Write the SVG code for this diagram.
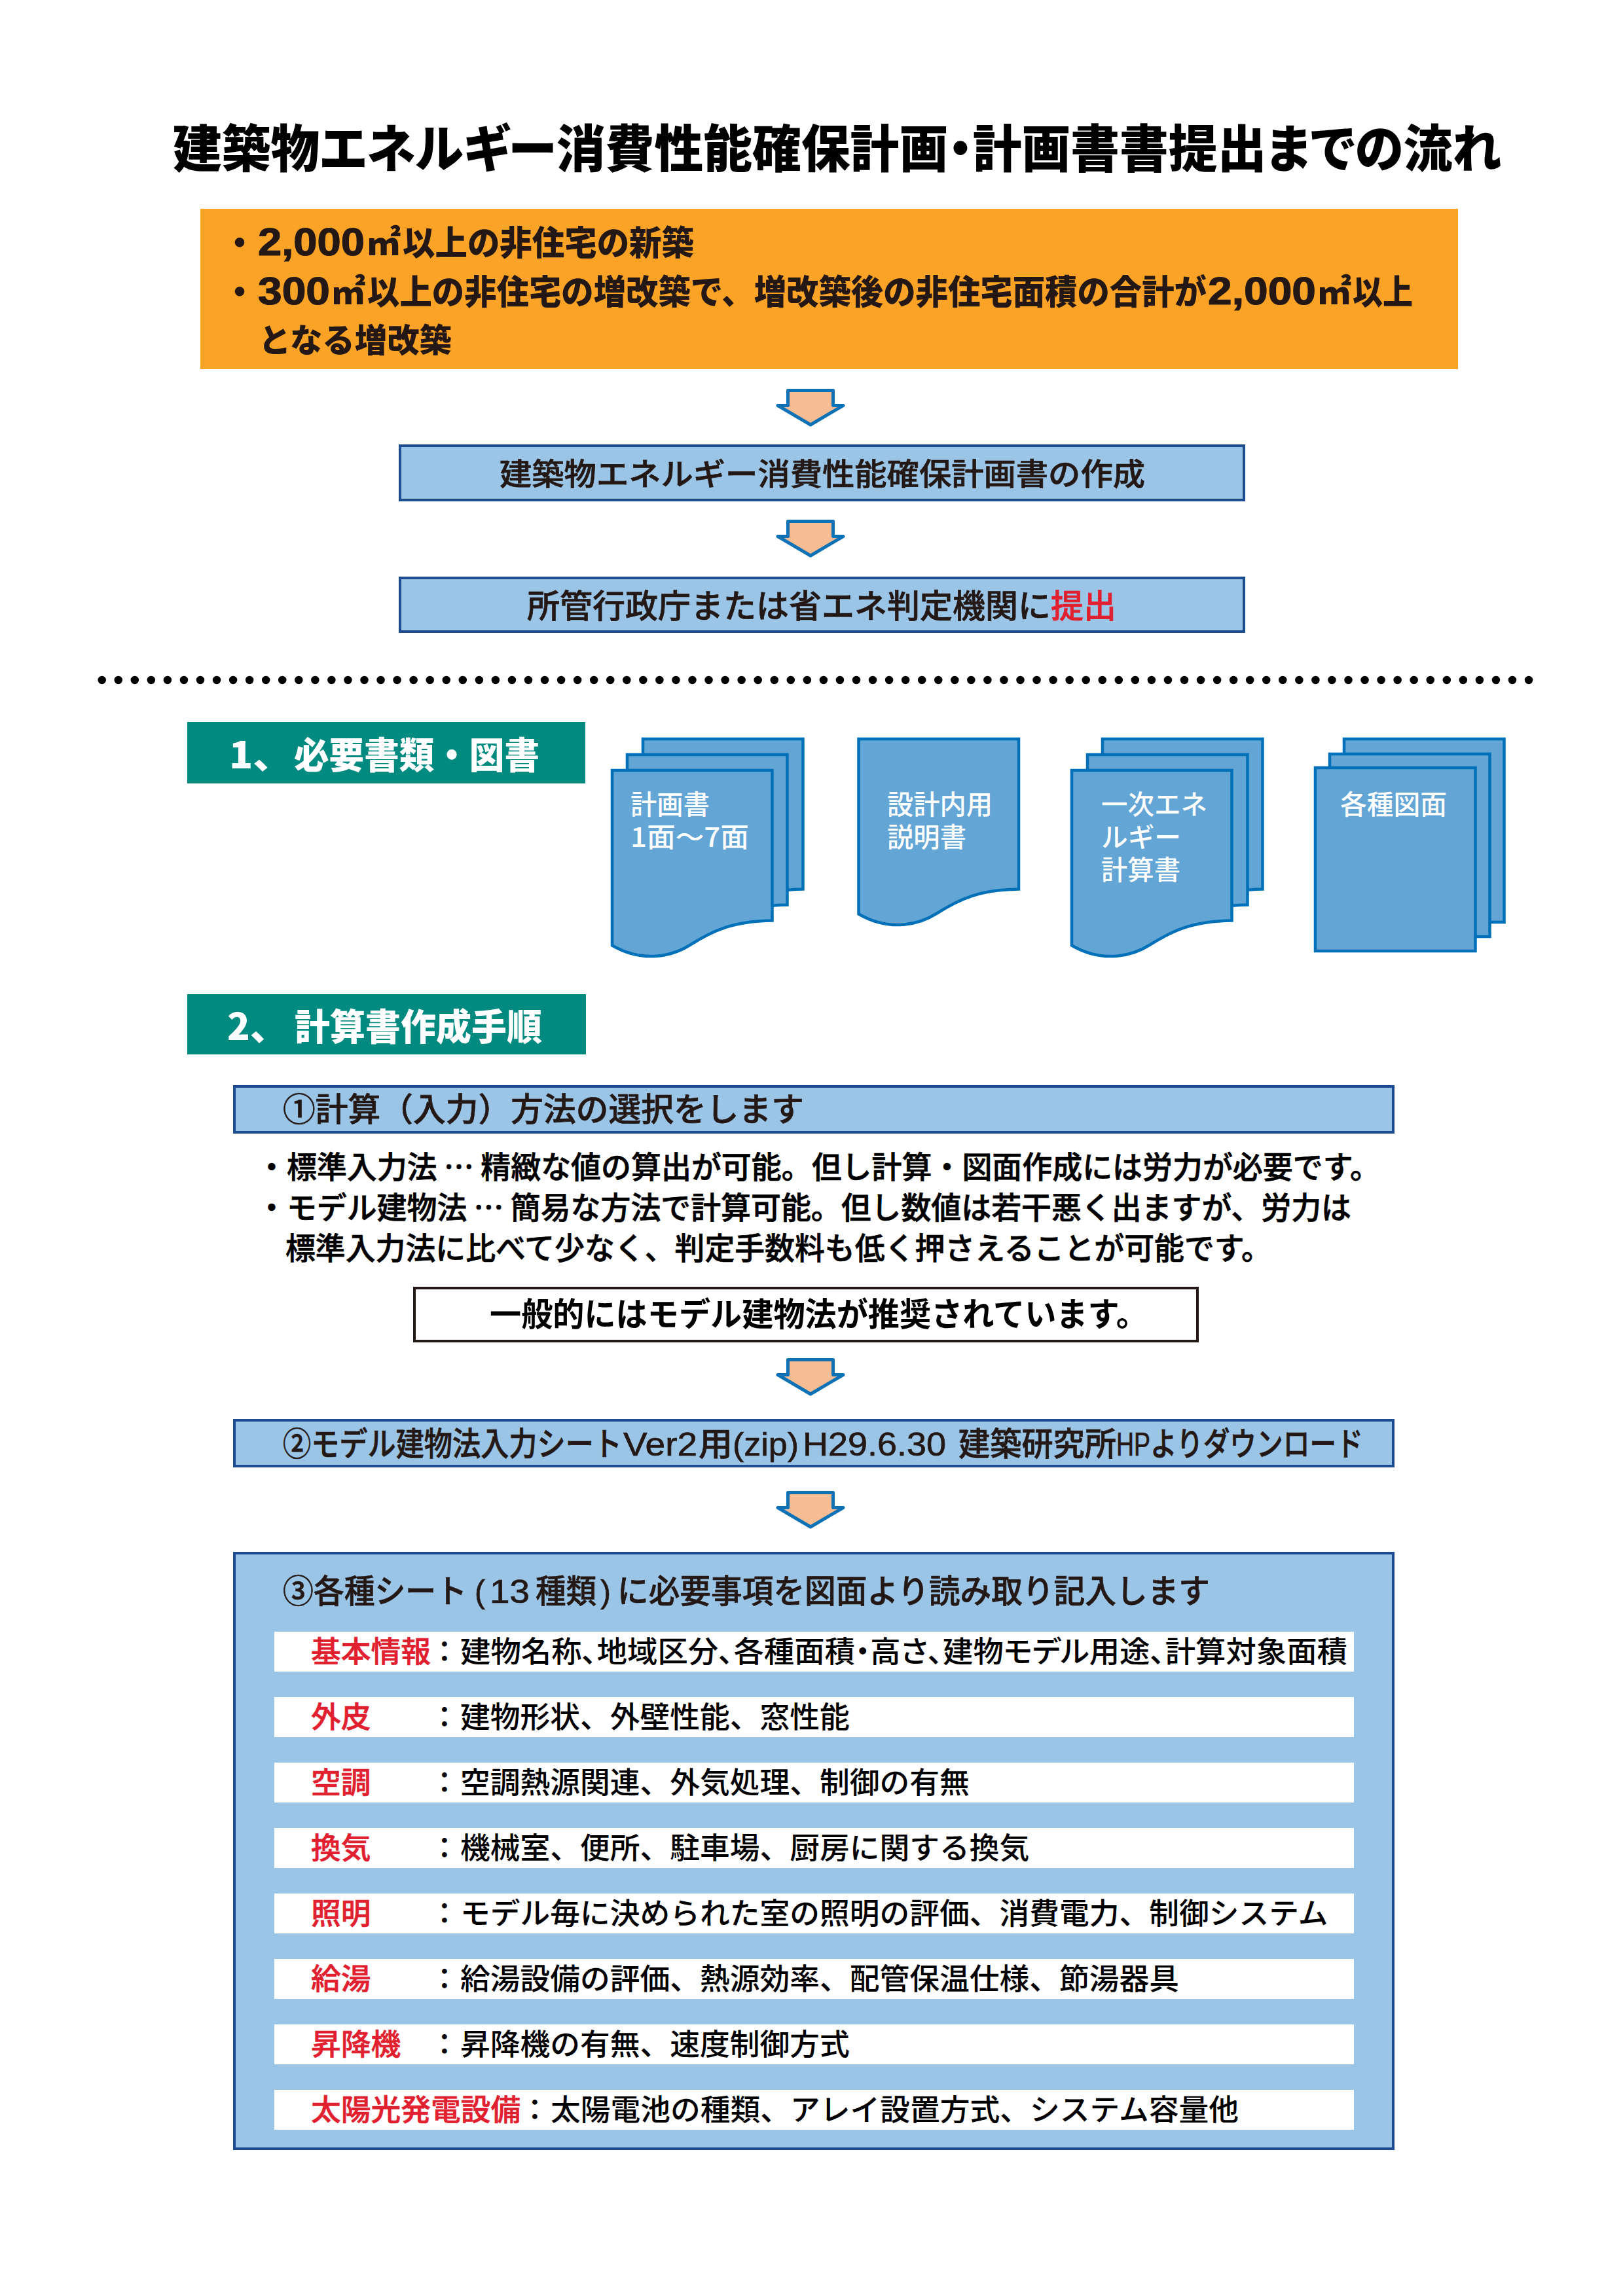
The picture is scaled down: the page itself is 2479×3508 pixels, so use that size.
<svg xmlns="http://www.w3.org/2000/svg" width="2479" height="3508" viewBox="0 0 2479 3508">
<style>
text{font-family:"Liberation Sans","Noto Sans CJK JP",sans-serif;fill:#231815;font-weight:700}
.cjk{font-family:"Noto Sans CJK JP",sans-serif}
.palt{font-feature-settings:"palt"}
.med{font-weight:500;stroke:#231815;stroke-width:.7px}
.blk{font-weight:900}
.ora{font-size:52px;font-weight:900}
.num{font-size:60px;font-weight:700;stroke:#231815;stroke-width:1.2px}
.head{font-size:50px}
.body{font-size:47px;font-weight:500;fill:#000;stroke:#000;stroke-width:.7px}
.row{font-size:45.750px;font-family:"Noto Sans CJK JP",sans-serif;font-weight:500;fill:#000}
.red{fill:#e1202f;stroke:#e1202f;stroke-width:.6px;font-weight:500}
.redb{fill:#e1202f;stroke:#e1202f}
.sec{font-size:56px;fill:#fff;font-weight:900;font-family:"Noto Sans CJK JP",sans-serif}
.doct{font-size:41px;fill:#fff;font-weight:500;font-family:"Noto Sans CJK JP",sans-serif}
.box{fill:#9bc5e6;stroke:#1d4c91;stroke-width:4}
.doc{fill:#63a5d5;stroke:#0071b8;stroke-width:4.500}
.arrow{fill:#f6bc93;stroke:#0d72b5;stroke-width:5;stroke-linejoin:round}
.wr{fill:#fff}
</style>
<defs>
<path id="docwave" d="M0 0H244.500V229.500C184.500 230.500 154.500 244.500 119.500 266.500C94.500 282.500 49.500 296 0 267.500Z"/>
<path id="arrowshape" d="M-34.500 2.500H34.500V25.500H50L0 55L-50 25.500H-34.500Z"/>
</defs>
<rect width="2479" height="3508" fill="#fff"/>

<g id="title"><text x="264" y="256" font-size="78" class="cjk palt" style="font-weight:900;fill:#000" textLength="2029" lengthAdjust="spacingAndGlyphs">建築物エネルギー消費性能確保計画・計画書書提出までの流れ</text></g>

<g id="conditions">
<rect x="306" y="319" width="1921" height="245" fill="#fba326"/>
<text x="366" y="390" text-anchor="middle" font-size="52" class="cjk blk">・</text>
<text y="390" class="ora"><tspan class="num" x="394" textLength="163" lengthAdjust="spacingAndGlyphs">2,000</tspan><tspan x="560" textLength="52" lengthAdjust="spacingAndGlyphs">㎡</tspan><tspan x="615" textLength="445" lengthAdjust="spacingAndGlyphs">以上の非住宅の新築</tspan></text>
<text x="366" y="465" text-anchor="middle" font-size="52" class="cjk blk">・</text>
<text y="465" class="ora"><tspan class="num" x="394" textLength="110" lengthAdjust="spacingAndGlyphs">300</tspan><tspan x="506" textLength="52" lengthAdjust="spacingAndGlyphs">㎡</tspan><tspan x="561" textLength="1282" lengthAdjust="spacingAndGlyphs">以上の非住宅の増改築で、増改築後の非住宅面積の合計が</tspan><tspan class="num" x="1845" textLength="165" lengthAdjust="spacingAndGlyphs">2,000</tspan><tspan x="2012" textLength="52" lengthAdjust="spacingAndGlyphs">㎡</tspan><tspan x="2066" textLength="92" lengthAdjust="spacingAndGlyphs">以上</tspan></text>
<text x="395" y="538" font-size="50" class="blk" textLength="295" lengthAdjust="spacingAndGlyphs">となる増改築</text>
</g>

<g id="plan">
<rect class="box" x="611" y="681" width="1289" height="83"/>
<text x="763" y="741" font-size="47" class="cjk med" textLength="986" lengthAdjust="spacingAndGlyphs">建築物エネルギー消費性能確保計画書の作成</text>
</g>
<g id="submit">
<rect class="box" x="611" y="883" width="1289" height="82"/>
<text x="805" y="944" font-size="50" class="cjk med" textLength="900" lengthAdjust="spacingAndGlyphs">所管行政庁または省エネ判定機関に<tspan class="redb">提出</tspan></text>
</g>

<g id="divider"><line x1="155.700" y1="1039" x2="2340" y2="1039" stroke="#000" stroke-width="12.500" stroke-linecap="round" stroke-dasharray="0 25.050"/></g>

<g id="section1">
<rect x="286" y="1103" width="608" height="94" fill="#008a80"/>
<text y="1174" class="sec"><tspan x="350" textLength="96" lengthAdjust="spacingAndGlyphs">1、</tspan><tspan x="449" textLength="375" lengthAdjust="spacingAndGlyphs">必要書類・図書</tspan></text>
</g>

<g id="doc1">
<use href="#docwave" class="doc" transform="translate(982 1129)"/>
<use href="#docwave" class="doc" transform="translate(958 1153)"/>
<use href="#docwave" class="doc" transform="translate(935 1177)"/>
<text class="doct" x="963" y="1244" textLength="121" lengthAdjust="spacingAndGlyphs">計画書</text>
<text class="doct" x="963" y="1294" textLength="181" lengthAdjust="spacingAndGlyphs">1面～7面</text>
</g>
<g id="doc2">
<use href="#docwave" class="doc" transform="translate(1311.500 1129)"/>
<text class="doct" x="1355" y="1244" textLength="161" lengthAdjust="spacingAndGlyphs">設計内用</text>
<text class="doct" x="1355" y="1294" textLength="121" lengthAdjust="spacingAndGlyphs">説明書</text>
</g>
<g id="doc3">
<use href="#docwave" class="doc" transform="translate(1684 1129)"/>
<use href="#docwave" class="doc" transform="translate(1661 1153)"/>
<use href="#docwave" class="doc" transform="translate(1637 1177)"/>
<text class="doct" x="1682" y="1244" textLength="162" lengthAdjust="spacingAndGlyphs">一次エネ</text>
<text class="doct" x="1682" y="1294" textLength="122" lengthAdjust="spacingAndGlyphs">ルギー</text>
<text class="doct" x="1682" y="1344" textLength="121" lengthAdjust="spacingAndGlyphs">計算書</text>
</g>
<g id="doc4">
<rect class="doc" x="2053" y="1129" width="244.500" height="280"/>
<rect class="doc" x="2031" y="1152" width="244.500" height="279"/>
<rect class="doc" x="2009" y="1173" width="244.500" height="280"/>
<text class="doct" x="2047" y="1244" textLength="163" lengthAdjust="spacingAndGlyphs">各種図面</text>
</g>

<g id="section2">
<rect x="286" y="1519" width="609" height="92" fill="#008a80"/>
<text y="1589" class="sec"><tspan x="347" textLength="92" lengthAdjust="spacingAndGlyphs">2、</tspan><tspan x="450" textLength="378" lengthAdjust="spacingAndGlyphs">計算書作成手順</tspan></text>
</g>

<g id="step1">
<rect class="box" x="358" y="1660" width="1770" height="70"/>
<text x="432" y="1713" class="head cjk med" textLength="796" lengthAdjust="spacingAndGlyphs">①計算（入力）方法の選択をします</text>
</g>
<g id="notes">
<text x="392" y="1800" class="body cjk" textLength="1716" lengthAdjust="spacingAndGlyphs">・標準入力法 … 精緻な値の算出が可能。但し計算・図面作成には労力が必要です。</text>
<text x="392" y="1862" class="body cjk" textLength="1672" lengthAdjust="spacingAndGlyphs">・モデル建物法 … 簡易な方法で計算可能。但し数値は若干悪く出ますが、労力は</text>
<text x="436" y="1924" class="body cjk" textLength="1506" lengthAdjust="spacingAndGlyphs">標準入力法に比べて少なく、判定手数料も低く押さえることが可能です。</text>
</g>
<g id="recommend">
<rect x="633" y="1968" width="1196" height="81" fill="#fff" stroke="#231815" stroke-width="4"/>
<text x="748" y="2026" class="cjk" font-size="50" style="fill:#000" textLength="1005" lengthAdjust="spacingAndGlyphs">一般的にはモデル建物法が推奨されています。</text>
</g>
<g id="step2">
<rect class="box" x="358" y="2170" width="1770" height="70"/>
<text y="2224" class="head med"><tspan x="432" textLength="518" lengthAdjust="spacingAndGlyphs">②モデル建物法入力シート</tspan><tspan x="952" textLength="113" lengthAdjust="spacingAndGlyphs">Ver2</tspan><tspan x="1067" textLength="153" lengthAdjust="spacingAndGlyphs">用(zip)</tspan><tspan x="1226" textLength="219" lengthAdjust="spacingAndGlyphs">H29.6.30</tspan><tspan x="1464" textLength="241" lengthAdjust="spacingAndGlyphs">建築研究所</tspan><tspan x="1705" textLength="52" lengthAdjust="spacingAndGlyphs">HP</tspan><tspan x="1757" textLength="325" lengthAdjust="spacingAndGlyphs">よりダウンロード</tspan></text>
</g>
<g id="step3">
<rect class="box" x="358" y="2373" width="1770" height="910"/>
<text y="2449" class="head med"><tspan x="432" textLength="281" lengthAdjust="spacingAndGlyphs">③各種シート</tspan><tspan x="725" textLength="16" lengthAdjust="spacingAndGlyphs">(</tspan><tspan x="748" textLength="61" lengthAdjust="spacingAndGlyphs">13</tspan><tspan x="818" textLength="93" lengthAdjust="spacingAndGlyphs">種類</tspan><tspan x="917" textLength="16" lengthAdjust="spacingAndGlyphs">)</tspan><tspan x="943" textLength="905" lengthAdjust="spacingAndGlyphs">に必要事項を図面より読み取り記入します</tspan></text>
</g>

<g id="row-basic"><rect class="wr" x="419" y="2493" width="1649" height="61"/>
<text class="row red" x="475" y="2540">基本情報</text><text class="row" x="656" y="2540">：</text>
<text class="row palt" x="703" y="2540" textLength="1355" lengthAdjust="spacingAndGlyphs">建物名称、地域区分、各種面積・高さ、建物モデル用途、計算対象面積</text></g>
<g id="row-envelope"><rect class="wr" x="419" y="2593" width="1649" height="61"/>
<text class="row red" x="475" y="2640">外皮</text><text class="row" x="656" y="2640">：</text>
<text class="row" x="703" y="2640">建物形状、外壁性能、窓性能</text></g>
<g id="row-hvac"><rect class="wr" x="419" y="2693" width="1649" height="61"/>
<text class="row red" x="475" y="2740">空調</text><text class="row" x="656" y="2740">：</text>
<text class="row" x="703" y="2740">空調熱源関連、外気処理、制御の有無</text></g>
<g id="row-vent"><rect class="wr" x="419" y="2793" width="1649" height="61"/>
<text class="row red" x="475" y="2840">換気</text><text class="row" x="656" y="2840">：</text>
<text class="row" x="703" y="2840">機械室、便所、駐車場、厨房に関する換気</text></g>
<g id="row-light"><rect class="wr" x="419" y="2893" width="1649" height="61"/>
<text class="row red" x="475" y="2940">照明</text><text class="row" x="656" y="2940">：</text>
<text class="row" x="703" y="2940">モデル毎に決められた室の照明の評価、消費電力、制御システム</text></g>
<g id="row-water"><rect class="wr" x="419" y="2993" width="1649" height="61"/>
<text class="row red" x="475" y="3040">給湯</text><text class="row" x="656" y="3040">：</text>
<text class="row" x="703" y="3040">給湯設備の評価、熱源効率、配管保温仕様、節湯器具</text></g>
<g id="row-lift"><rect class="wr" x="419" y="3093" width="1649" height="61"/>
<text class="row red" x="475" y="3140">昇降機</text><text class="row" x="656" y="3140">：</text>
<text class="row" x="703" y="3140">昇降機の有無、速度制御方式</text></g>
<g id="row-pv"><rect class="wr" x="419" y="3193" width="1649" height="61"/>
<text class="row red" x="475" y="3240">太陽光発電設備</text><text class="row" x="794" y="3240">：</text>
<text class="row" x="841" y="3240">太陽電池の種類、アレイ設置方式、システム容量他</text></g>

<g id="connectors">
<use href="#arrowshape" class="arrow" transform="translate(1238 594)"/>
<use href="#arrowshape" class="arrow" transform="translate(1238 794)"/>
<use href="#arrowshape" class="arrow" transform="translate(1238 2075)"/>
<use href="#arrowshape" class="arrow" transform="translate(1238 2278)"/>
</g>
</svg>
